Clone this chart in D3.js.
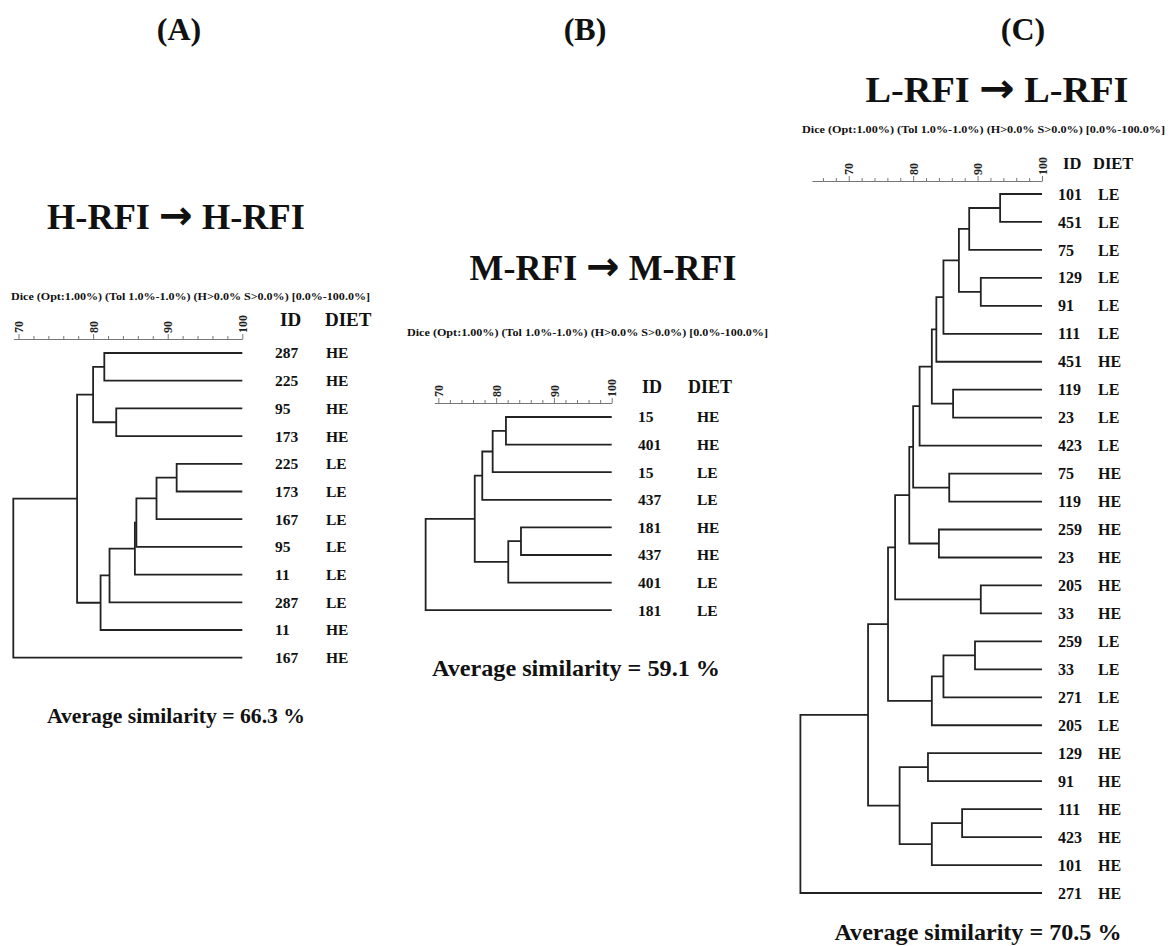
<!DOCTYPE html>
<html>
<head>
<meta charset="utf-8">
<script src="https://cdn.jsdelivr.net/npm/d3@7"></script>
<style>
  body { margin: 0; background: #fff; }
  svg text { font-family: "Liberation Serif", "Times New Roman", serif; font-weight: bold; fill: #111; }
</style>
</head>
<body>
<svg id="chart" width="1168" height="946"></svg>
<script>
// leaves are numbered 0..n-1 top to bottom, merge k becomes node n+k
// each merge: [child, child, similarity %]

// (A) H-RFI -> H-RFI
var idsA   = ["287", "225", "95", "173", "225", "173", "167", "95", "11", "287", "11", "167"];
var dietsA = ["HE", "HE", "HE", "HE", "LE", "LE", "LE", "LE", "LE", "LE", "HE", "HE"];
var mergesA = [
  [0, 1, 81.5], [2, 3, 83.1], [12, 13, 80.0],
  [4, 5, 91.2], [15, 6, 88.5], [16, 7, 85.8], [17, 8, 85.6],
  [18, 9, 82.2], [19, 10, 81.0], [14, 20, 77.85], [21, 11, 69.3]
];

// (B) M-RFI -> M-RFI
var idsB   = ["15", "401", "15", "437", "181", "437", "401", "181"];
var dietsB = ["HE", "HE", "LE", "LE", "HE", "HE", "LE", "LE"];
var mergesB = [
  [0, 1, 81.7], [8, 2, 79.4], [9, 3, 77.6],
  [4, 5, 84.3], [11, 6, 82.1], [10, 12, 76.3], [13, 7, 67.8]
];

// (C) L-RFI -> L-RFI
var idsC   = ["101", "451", "75", "129", "91", "111", "451", "119", "23", "423", "75", "119", "259",
              "23", "205", "33", "259", "33", "271", "205", "129", "91", "111", "423", "101", "271"];
var dietsC = ["LE", "LE", "LE", "LE", "LE", "LE", "HE", "LE", "LE", "LE", "HE", "HE", "HE",
              "HE", "HE", "HE", "LE", "LE", "LE", "LE", "HE", "HE", "HE", "HE", "HE", "HE"];
var mergesC = [
  [0, 1, 93.5], [26, 2, 88.7], [3, 4, 90.5], [27, 28, 87.1], [29, 5, 84.7], [30, 6, 83.6],
  [7, 8, 86.2], [31, 32, 82.9], [33, 9, 81.0], [10, 11, 85.6], [34, 35, 80.0],
  [12, 13, 84.0], [36, 37, 79.4], [14, 15, 90.5], [38, 39, 77.2],
  [16, 17, 89.6], [41, 18, 84.7], [42, 19, 82.9], [40, 43, 76.1],
  [20, 21, 82.3], [22, 23, 87.6], [46, 24, 82.9], [45, 47, 77.9],
  [44, 48, 73.0], [49, 25, 62.5]
];

var panelLetters = ["(A)", "(B)", "(C)"];
var groupNames   = ["H-RFI", "M-RFI", "L-RFI"];
var avgSimilarity = [66.3, 59.1, 70.5];
var axisStart = [69.3, 69.3, 64.3];
var majorTicks = [70, 80, 90, 100];
var diceText = "Dice (Opt:1.00%) (Tol 1.0%-1.0%) (H>0.0% S>0.0%) [0.0%-100.0%]";

var layout = [
  { x0: 13.3, x1: 242.3, axisY: 339, leafY: 353, step: 27.7, idX: 275, dietX: 326,
    headIdX: 280, headDietX: 325, headY: 326, headSize: 19, leafSize: 15.5,
    diceX: 11, diceW: 359, diceY: 300, letterX: 179,
    titleX: 176, titleY: 229, titleW: 258, avgX: 176, avgY: 723, avgW: 258, avgSize: 22 },
  { x0: 434.3, x1: 611.7, axisY: 403, leafY: 417, step: 27.6, idX: 638, dietX: 697,
    headIdX: 642, headDietX: 688, headY: 393, headSize: 18, leafSize: 15.5,
    diceX: 407, diceW: 361, diceY: 336, letterX: 585,
    titleX: 603, titleY: 280, titleW: 267, avgX: 576, avgY: 676, avgW: 288, avgSize: 24 },
  { x0: 812, x1: 1042, axisY: 181, leafY: 194, step: 27.96, idX: 1058, dietX: 1098,
    headIdX: 1063, headDietX: 1093, headY: 169, headSize: 16.5, leafSize: 16,
    diceX: 802, diceW: 363, diceY: 133, letterX: 1023,
    titleX: 997, titleY: 102, titleW: 263, avgX: 978, avgY: 940, avgW: 287, avgSize: 24 }
];

var svg = d3.select("#chart");

function drawPanel(i, ids, diets, merges) {
  var L = layout[i];
  var g = svg.append("g").attr("class", "panel-" + i);

  var x = d3.scaleLinear()
            .domain([axisStart[i], 100])
            .range([L.x0, L.x1]);

  // node positions: leaves at 100 %, each merge halfway between its children
  var nodes = ids.map((id, k) => ({ x: x(100), y: L.leafY + k * L.step }));
  merges.forEach(m => {
    var a = nodes[m[0]], b = nodes[m[1]];
    nodes.push({ x: x(m[2]), y: (a.y + b.y) / 2, a: a, b: b });
  });

  g.selectAll(".link")
    .data(nodes.filter(d => d.a))
    .enter()
    .append("path")
      .attr("class", "link")
      .attr("fill", "none")
      .attr("stroke", "#222")
      .attr("stroke-width", 1.8)
      .attr("d", d => "M" + d.a.x + "," + d.a.y + "H" + d.x + "V" + d.b.y + "H" + d.b.x);

  // similarity ruler
  var ticks = d3.range(Math.ceil(axisStart[i] / 2) * 2, 100.1, 2);
  var axis = d3.axisTop(x)
               .tickValues(ticks)
               .tickSizeInner(3)
               .tickSizeOuter(0)
               .tickFormat(d => majorTicks.indexOf(d) >= 0 ? d : "");

  var ax = g.append("g")
      .attr("transform", "translate(0," + L.axisY + ")")
      .call(axis);
  ax.select(".domain").attr("stroke", "#777").attr("stroke-width", 1.2);
  ax.selectAll(".tick line").attr("stroke", "#777");
  ax.selectAll(".tick")
    .filter(d => majorTicks.indexOf(d) >= 0)
    .select("line").attr("y2", -5);
  ax.selectAll(".tick text")
      .attr("transform", "rotate(-90)")
      .attr("x", 6)
      .attr("y", 0)
      .attr("dy", "0.35em")
      .attr("font-size", 12)
      .attr("font-family", "Liberation Serif")
      .style("text-anchor", "start")
      .style("fill", "#222");

  // headers
  g.append("text")
      .attr("x", L.headIdX).attr("y", L.headY)
      .attr("font-size", L.headSize)
      .text("ID");
  g.append("text")
      .attr("x", L.headDietX).attr("y", L.headY)
      .attr("font-size", L.headSize)
      .text("DIET");

  // leaf labels
  var leaves = g.selectAll(".leaf")
                .data(ids.map((id, k) => ({ id: id, diet: diets[k], y: nodes[k].y })))
                .enter()
                .append("g")
                  .attr("class", "leaf");
  leaves.append("text")
      .attr("x", L.idX).attr("y", d => d.y)
      .attr("dy", "0.35em")
      .attr("font-size", L.leafSize)
      .text(d => d.id);
  leaves.append("text")
      .attr("x", L.dietX).attr("y", d => d.y)
      .attr("dy", "0.35em")
      .attr("font-size", L.leafSize)
      .text(d => d.diet);

  g.append("text")
      .attr("x", L.diceX).attr("y", L.diceY)
      .attr("font-size", 11)
      .attr("textLength", L.diceW)
      .attr("lengthAdjust", "spacingAndGlyphs")
      .text(diceText);

  g.append("text")
      .attr("x", L.letterX).attr("y", 40)
      .attr("font-size", 32)
      .style("text-anchor", "middle")
      .text(panelLetters[i]);

  var title = g.append("text")
      .attr("x", L.titleX - L.titleW / 2).attr("y", L.titleY)
      .attr("font-size", 36)
      .attr("textLength", L.titleW)
      .attr("lengthAdjust", "spacingAndGlyphs");
  title.append("tspan").text(groupNames[i] + " ");
  title.append("tspan")
      .attr("font-family", "DejaVu Sans")
      .attr("font-size", 40)
      .text("\u2192");
  title.append("tspan").text(" " + groupNames[i]);

  g.append("text")
      .attr("x", L.avgX - L.avgW / 2).attr("y", L.avgY)
      .attr("font-size", L.avgSize)
      .attr("textLength", L.avgW)
      .attr("lengthAdjust", "spacingAndGlyphs")
      .text("Average similarity = " + avgSimilarity[i] + " %");
}

drawPanel(0, idsA, dietsA, mergesA);
drawPanel(1, idsB, dietsB, mergesB);
drawPanel(2, idsC, dietsC, mergesC);
</script>
</body>
</html>
